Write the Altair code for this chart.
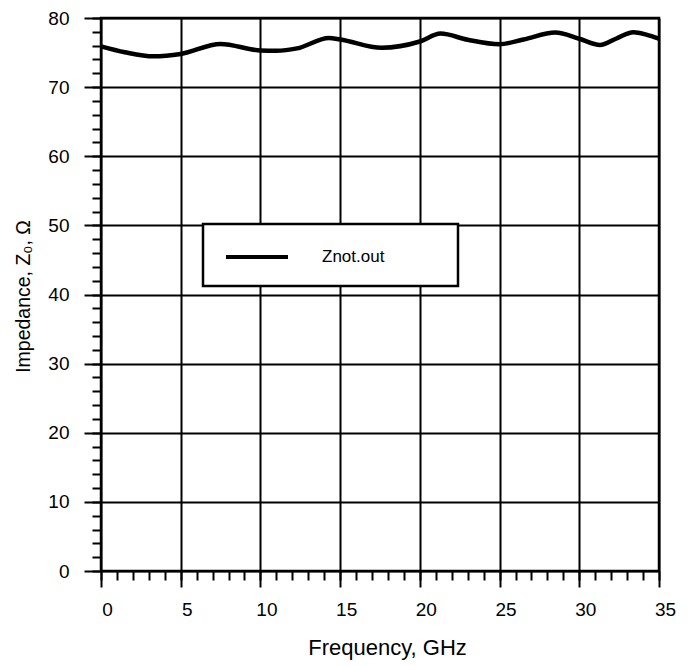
import altair as alt
import pandas as pd

# --- data ---
freq_ghz = [0, 1.5, 3.3, 5, 7.5, 10, 11, 12.3, 14.3, 15, 17.6, 20, 21.3, 23,
            25, 26.5, 28.5, 30, 31.3, 32.3, 33.4, 34.2, 35]
z0_ohm = [75.9, 75.05, 74.45, 74.8, 76.25, 75.3, 75.25, 75.6, 77.1, 76.9,
          75.7, 76.6, 77.75, 76.85, 76.2, 76.9, 77.9, 77.0, 76.1, 77.0,
          77.95, 77.6, 77.0]
series_name = ["Znot.out"] * len(freq_ghz)

x_major = [0, 5, 10, 15, 20, 25, 30, 35]
x_minor = list(range(0, 36))
y_major = [0, 10, 20, 30, 40, 50, 60, 70, 80]
y_minor = list(range(0, 81, 2))

df = pd.DataFrame({"f": freq_ghz, "z": z0_ohm, "s": series_name})

FONT = "Liberation Sans"

x_scale = alt.Scale(domain=[0, 35], nice=False, zero=False)
y_scale = alt.Scale(domain=[0, 80], nice=False, zero=False)

major_common = dict(
    grid=True, gridColor="black", gridWidth=2, gridOpacity=1,
    tickColor="black", tickWidth=2, domain=False,
    labelFont=FONT, labelFontSize=19, labelColor="black", labelFlush=False,
    titleFont=FONT, titleFontWeight="normal", titleColor="black",
    format="d",
)

# legend sample: a wide horizontal stroke; the trailing move widens the legend box
legend_symbol = "M-3.1,0H3.1M17.2,0"

main = alt.Chart(df).mark_line(strokeWidth=4.5, interpolate="monotone").encode(
    x=alt.X("f:Q", scale=x_scale,
            axis=alt.Axis(values=x_major, title="Frequency, GHz", tickSize=16,
                          labelPadding=13, labelOffset=6, titlePadding=18,
                          titleFontSize=22, titleX=286, **major_common)),
    y=alt.Y("z:Q", scale=y_scale,
            axis=alt.Axis(values=y_major, title="Impedance, Z₀, Ω", tickSize=17,
                          labelPadding=15, titlePadding=14, titleFontSize=19.5,
                          titleY=278, **major_common)),
    color=alt.Color("s:N", scale=alt.Scale(range=["black"]),
                    legend=alt.Legend(
                        title=None, orient="none", legendX=102, legendY=206,
                        symbolType=legend_symbol, symbolSize=400,
                        symbolStrokeWidth=4, symbolStrokeColor="black",
                        symbolOffset=21,
                        labelFont=FONT, labelFontSize=17, labelColor="black",
                        labelOffset=53, padding=21,
                        strokeColor="black", fillColor="white",
                    )),
)

minor = alt.Chart(df).mark_line(strokeOpacity=0).encode(
    x=alt.X("f:Q", scale=x_scale,
            axis=alt.Axis(orient="bottom", values=x_minor, labels=False, grid=False,
                          tickSize=9, tickWidth=2, tickColor="black", domain=False,
                          title=None)),
    y=alt.Y("z:Q", scale=y_scale,
            axis=alt.Axis(orient="left", values=y_minor, labels=False, grid=False,
                          tickSize=9, tickWidth=2, tickColor="black", domain=False,
                          title=None)),
)

chart = alt.layer(main, minor).resolve_axis(
    x="independent", y="independent"
).properties(
    width=558, height=553,
    autosize=alt.AutoSizeParams(type="none"),
    padding={"left": 93, "top": 10, "right": 25, "bottom": 91},
).configure_view(
    stroke="black", strokeWidth=2.5
).configure_legend(strokeWidth=2.5)

chart.save("out.html", embed_options={"renderer": "svg", "actions": False})
